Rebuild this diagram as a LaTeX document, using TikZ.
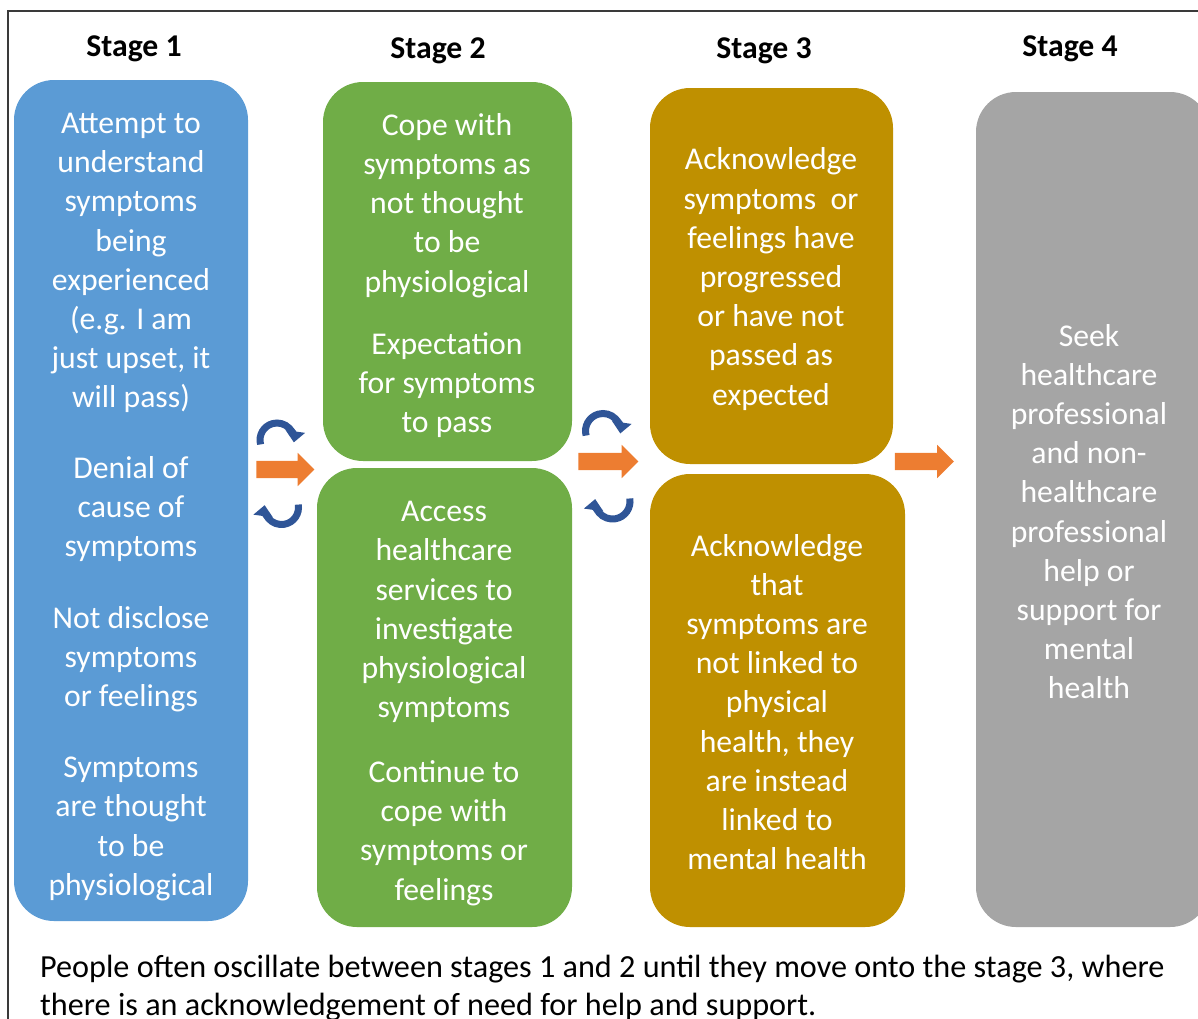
\documentclass[tikz,border=0pt]{standalone}
\usepackage{fontspec}
\setmainfont{Carlito}
\usetikzlibrary{shapes.arrows,arrows.meta}

\definecolor{sblue}{HTML}{5B9BD5}
\definecolor{sgreen}{HTML}{70AD47}
\definecolor{sgold}{HTML}{BF9000}
\definecolor{sgrey}{HTML}{A5A5A5}
\definecolor{sorange}{HTML}{ED7D31}
\definecolor{loopblue}{HTML}{2F5597}
\definecolor{framegrey}{HTML}{3A3A3A}

\begin{document}
\begin{tikzpicture}[x=1pt,y=-1pt,
  stagebox/.style={rectangle, rounded corners=40pt, inner sep=0pt},
  boxtext/.style={text=white, align=center, inner sep=0pt,
    font=\fontsize{31.7}{39.2}\selectfont},
  stagelabel/.style={inner sep=0pt, font=\bfseries\fontsize{31.7}{39}\selectfont},
  flowarrow/.style={single arrow, fill=sorange, draw=none, inner xsep=0pt,
    inner ysep=8.5pt, minimum width=1pt, single arrow head extend=8pt,
    single arrow tip angle=90},
  loop/.style={draw=loopblue, line width=7pt, -{Triangle[width=19pt,length=11pt]}},
  frameline/.style={draw=framegrey, line width=2pt}
]
\useasboundingbox (0,0) rectangle (1198,1018);
\clip (0,0) rectangle (1198,1018);

% outer frame
\draw[frameline] (8,1030) -- (8,11) -- (1210,11);

% stage headings
\node[stagelabel] (h1) at (134,48.5) {Stage 1};
\node[stagelabel] (h2) at (438,50.5) {Stage 2};
\node[stagelabel] (h3) at (764,50.5) {Stage 3};
\node[stagelabel] (h4) at (1070,48.5) {Stage 4};

% stage boxes
\node[stagebox, fill=sblue,  minimum width=234pt, minimum height=841pt] (s1)  at (131,500.5) {};
\node[stagebox, fill=sgreen, minimum width=249pt, minimum height=379pt] (s2a) at (447.5,271.5) {};
\node[stagebox, fill=sgreen, minimum width=255pt, minimum height=459pt] (s2b) at (444.5,697.5) {};
\node[stagebox, fill=sgold,  minimum width=243pt, minimum height=376pt] (s3a) at (771.5,276) {};
\node[stagebox, fill=sgold,  minimum width=255pt, minimum height=453pt] (s3b) at (777.5,700.5) {};
\node[stagebox, fill=sgrey,  minimum width=234pt, minimum height=835pt] (s4)  at (1093,509.5) {};

% stage 1 text
\node[boxtext] (t1a) at (131,263) {Attempt to\\understand\\symptoms\\being\\experienced\\(e.g. I am\\just upset, it\\will pass)};
\node[boxtext] (t1b) at (131,509) {Denial of\\cause of\\symptoms};
\node[boxtext] (t1c) at (131,659) {Not disclose\\symptoms\\or feelings};
\node[boxtext] (t1d) at (131,829) {Symptoms\\are thought\\to be\\physiological};

% stage 2 text
\node[boxtext] (t2a) at (447,205.5) {Cope with\\symptoms as\\not thought\\to be\\physiological};
\node[boxtext] (t2b) at (447,385) {Expectation\\for symptoms\\to pass};
\node[boxtext] (t2c) at (444,612) {Access\\healthcare\\services to\\investigate\\physiological\\symptoms};
\node[boxtext] (t2d) at (444,833) {Continue to\\cope with\\symptoms or\\feelings};

% stage 3 text
\node[boxtext] (t3a) at (771,279) {Acknowledge\\symptoms\ \ or\\feelings have\\progressed\\or have not\\passed as\\expected};
\node[boxtext] (t3b) at (777,702) {Acknowledge\\that\\symptoms are\\not linked to\\physical\\health, they\\are instead\\linked to\\mental health};

% stage 4 text
\node[boxtext] (t4) at (1089,511.5) {Seek\\healthcare\\professional\\and non-\\healthcare\\professional\\help or\\support for\\mental\\health};

% forward arrows between stages
\node[flowarrow, minimum height=58pt] (f12) at (281,469.5) {};
\node[flowarrow, minimum height=60pt] (f23) at (604,461.5) {};
\node[flowarrow, minimum height=59pt] (f34) at (920,461.5) {};

% back-and-forth loops
\coordinate (l12t) at (277,440);
\coordinate (l12b) at (281.5,507.5);
\coordinate (l23t) at (603,431);
\coordinate (l23b) at (612.5,501.5);
\draw[loop] ([shift={(165:17)}]l12t) arc[start angle=165, end angle=368, radius=17];
\draw[loop] ([shift={(-10:17)}]l12b) arc[start angle=-10, end angle=188, radius=17];
\draw[loop] ([shift={(165:17.5)}]l23t) arc[start angle=165, end angle=368, radius=17.5];
\draw[loop] ([shift={(-10:17.5)}]l23b) arc[start angle=-10, end angle=188, radius=17.5];

% caption
\node[anchor=north west, align=left, inner sep=0pt,
  font=\fontsize{32.2}{38}\selectfont] (cap) at (40,955)
  {People often oscillate between stages 1 and 2 until they move onto the stage 3, where\\there is an acknowledgement of need for help and support.};
\end{tikzpicture}
\end{document}
